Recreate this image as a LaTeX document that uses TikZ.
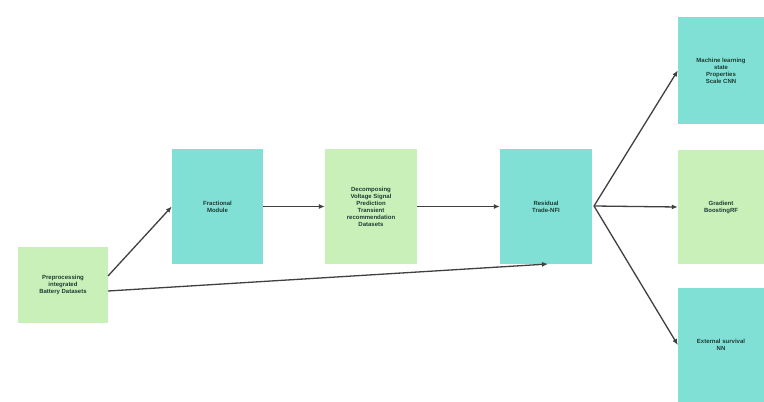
\documentclass[tikz,border=0pt]{standalone}
\usepackage{fontspec}
\setmainfont{Liberation Sans}
\usetikzlibrary{arrows.meta}
\definecolor{cyanbox}{RGB}{128,224,214}
\definecolor{greenbox}{RGB}{202,240,186}
\definecolor{txt}{RGB}{30,60,50}
\tikzset{
  box/.style={draw=none, inner sep=0pt, align=center, text=txt,
    font=\fontsize{6}{7}\selectfont\bfseries},
  cbox/.style={box, fill=cyanbox},
  gbox/.style={box, fill=greenbox},
  conn/.style={draw=black!75, line width=1.3pt, -{Latex[length=6pt,width=5pt]}}
}
\begin{document}
\begin{tikzpicture}[x=1pt,y=-1pt]
\useasboundingbox (0,0) rectangle (764,402);
\fill[white] (0,0) rectangle (764,402);
\node[gbox, minimum width=90pt, minimum height=76pt] (pre) at (63,285) {Preprocessing\\integrated\\Battery Datasets};
\node[cbox, minimum width=91pt, minimum height=115pt] (frac) at (217.5,206.5) {Fractional\\Module};
\node[gbox, minimum width=92pt, minimum height=115pt] (dec) at (371,206.5) {Decomposing\\Voltage Signal\\Prediction\\Transient\\recommendation\\Datasets};
\node[cbox, minimum width=92pt, minimum height=115pt] (res) at (546,206.5) {Residual\\Trade-NFI};
\node[cbox, minimum width=86pt, minimum height=107pt] (ml) at (721,70.5) {Machine learning\\state\\Properties\\Scale CNN};
\node[gbox, minimum width=86pt, minimum height=114pt] (gb) at (721,207) {Gradient\\BoostingRF};
\node[cbox, minimum width=86pt, minimum height=114pt] (ext) at (721,345) {External survival\\NN};
\coordinate (p1) at (108,276);
\coordinate (p2) at (108,291);
\coordinate (r1) at (548,264);
\coordinate (rs) at (594,206);
\draw[conn] (p1) -- (frac.west);
\draw[conn] (p2) -- (r1);
\draw[conn] (frac.east) -- (dec.west);
\draw[conn] (dec.east) -- (res.west);
\draw[conn] (rs) -- (ml.west);
\draw[conn] (rs) -- (gb.west);
\draw[conn] (rs) -- (ext.west);
\end{tikzpicture}
\end{document}
